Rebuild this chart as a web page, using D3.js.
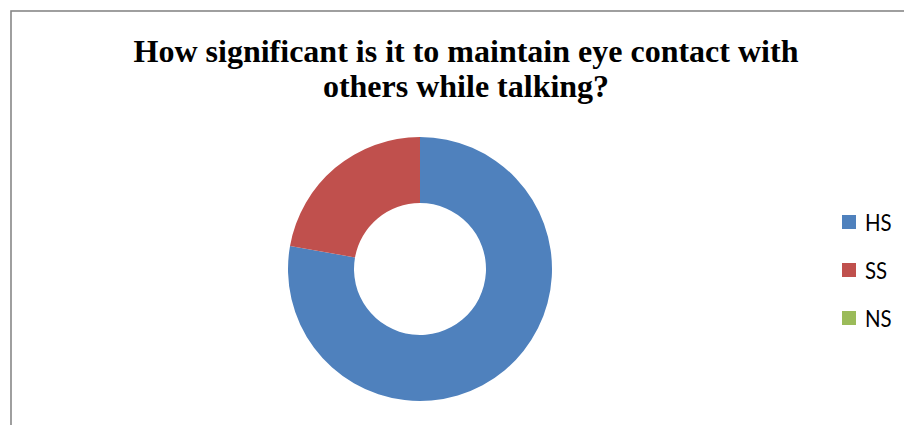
<!DOCTYPE html>
<html>
<head>
<meta charset="utf-8">
<script src="https://cdn.jsdelivr.net/npm/d3@7"></script>
<style>
  html, body { margin: 0; padding: 0; background: #fff; }
  svg { display: block; }
</style>
</head>
<body>
<svg id="chart" width="904" height="425"></svg>
<script>
// Survey responses (percent of respondents)
const categories = ["HS", "SS", "NS"];
const values = [77.8, 22.2, 0];
const colors = ["#4F81BD", "#C0504D", "#9BBB59"];
const titleLines = ["How significant is it to maintain eye contact with", "others while talking?"];

const svg = d3.select("#chart");
const W = 904, H = 425;

// chart frame
svg.append("rect")
  .attr("x", 11).attr("y", 11)
  .attr("width", W + 20).attr("height", H + 20)
  .attr("fill", "#fff")
  .attr("stroke", "#878787")
  .attr("stroke-width", 1.6);

// title
const title = svg.append("text")
  .attr("text-anchor", "middle")
  .attr("font-family", "'Liberation Serif', 'Times New Roman', serif")
  .attr("font-weight", "bold")
  .attr("font-size", 32)
  .attr("fill", "#000");
title.selectAll("tspan").data(titleLines).join("tspan")
  .attr("x", 466)
  .attr("y", (d, i) => 62 + i * 35)
  .text(d => d);

// donut
const cx = 420, cy = 269, outerR = 132, innerR = 66;
const pie = d3.pie().sort(null).value(d => d.v);
const arc = d3.arc().innerRadius(innerR).outerRadius(outerR);
const data = categories.map((c, i) => ({ c, v: values[i], color: colors[i] }));

svg.append("g")
  .attr("transform", `translate(${cx},${cy})`)
  .selectAll("path")
  .data(pie(data))
  .join("path")
  .attr("d", arc)
  .attr("fill", d => d.data.color);

// legend
const legend = svg.append("g");
const items = legend.selectAll("g").data(data).join("g")
  .attr("transform", (d, i) => `translate(842, ${222 + i * 48})`);
items.append("rect")
  .attr("x", 0).attr("y", -7)
  .attr("width", 14).attr("height", 14)
  .attr("fill", d => d.color);
items.append("text")
  .attr("transform", "translate(23, 8.5) scale(0.85, 1)")
  .attr("font-family", "Lato, 'Open Sans', sans-serif")
  .attr("font-size", 24)
  .attr("fill", "#000")
  .text(d => d.c);
</script>
</body>
</html>
